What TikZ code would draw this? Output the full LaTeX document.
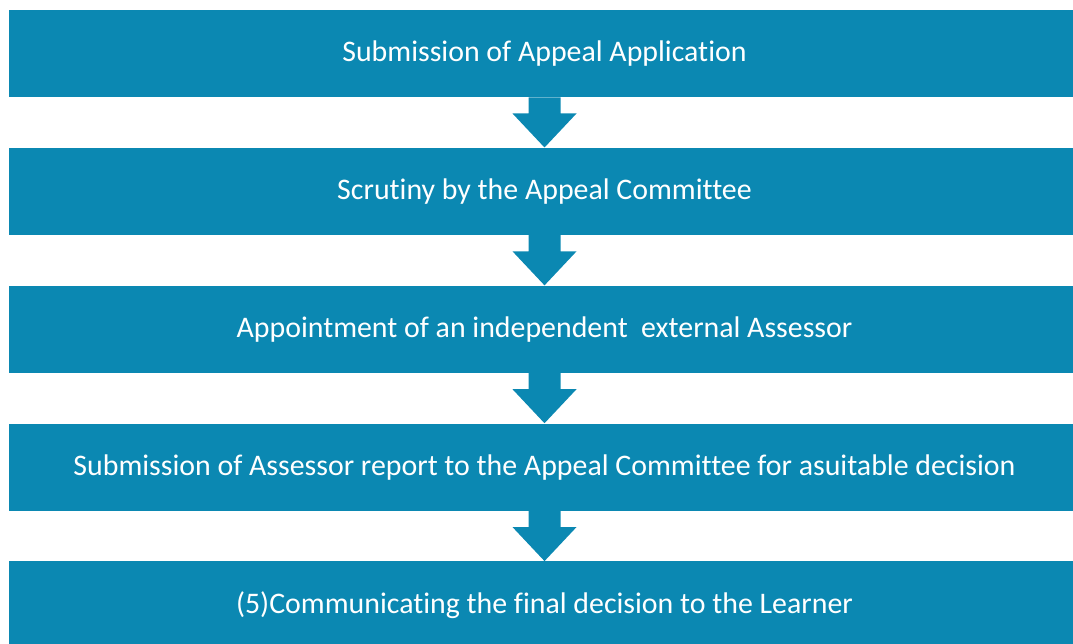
\documentclass[tikz,border=0pt]{standalone}
\usepackage{fontspec}
\setmainfont{Carlito}[Ligatures=NoCommon]
\usetikzlibrary{positioning, calc}
\definecolor{StepBlue}{RGB}{11,136,178}

\begin{document}
\begin{tikzpicture}[
        x=0.75pt, y=0.75pt,
        node distance=37.6pt,
        stage/.style={rectangle, fill=StepBlue, text=white, minimum width=803.25pt, minimum height=65.4pt, inner sep=0pt, font=\fontsize{22.4}{26}\selectfont},
        flow/.style={fill=StepBlue}
    ]
        \useasboundingbox (0,0) rectangle (1073,643);
        \node[stage] (submit) at (544.5,589.5) {Submission of Appeal Application};
        \node[stage, below=of submit] (scrutiny) {Scrutiny by the Appeal Committee};
        \node[stage, below=of scrutiny] (assessor) {Appointment of an independent~ external Assessor};
        \node[stage, below=of assessor] (report) {Submission of Assessor report to the Appeal Committee for asuitable decision};
        \node[stage, below=of report] (inform) {(5)Communicating the final decision to the Learner};

        \foreach \a/\b in {submit/scrutiny, scrutiny/assessor, assessor/report, report/inform}
            \fill[flow] ($(\a.south)+(-16,0)$) -- ($(\b.north)+(-16,34)$) -- ($(\b.north)+(-32,34)$) -- (\b.north)
                -- ($(\b.north)+(32,34)$) -- ($(\b.north)+(16,34)$) -- ($(\a.south)+(16,0)$) -- cycle;
    \end{tikzpicture}
\end{document}
